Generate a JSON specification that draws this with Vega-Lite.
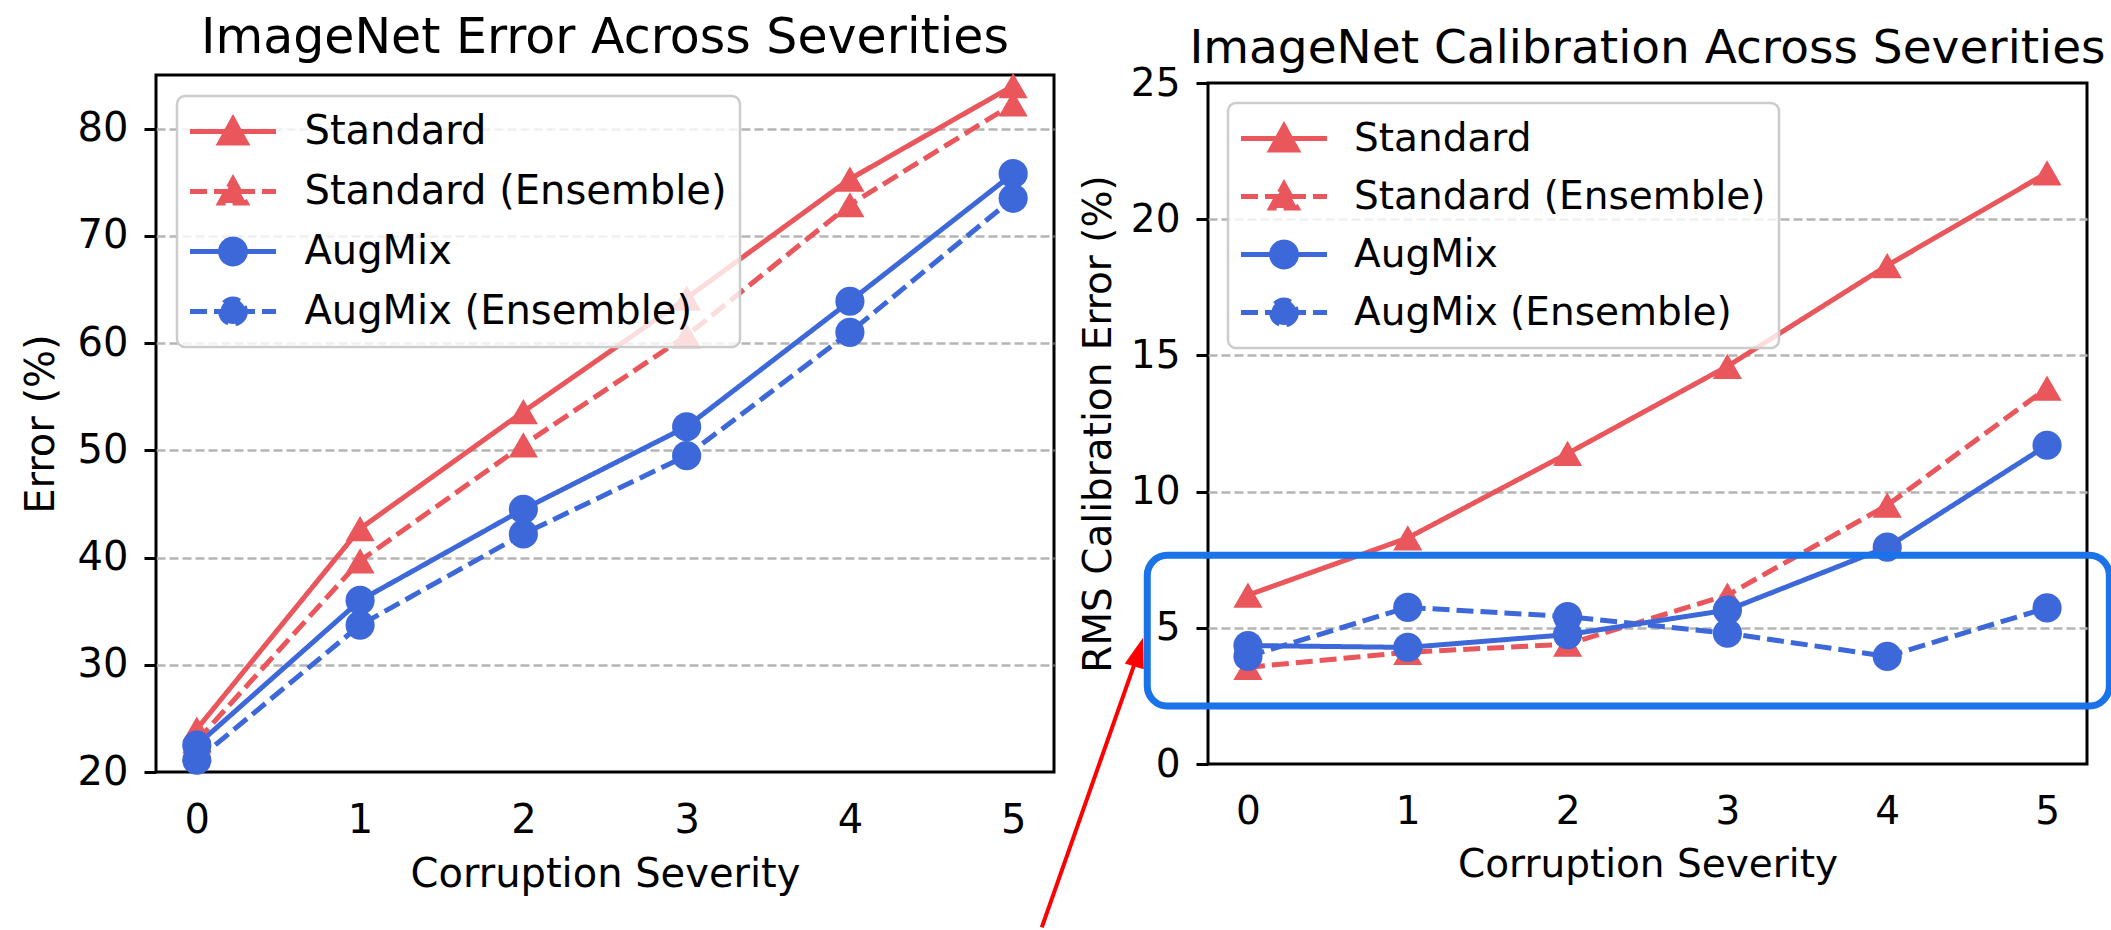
{
  "$schema": "https://vega.github.io/schema/vega-lite/v6.json",
  "padding": {"top": 12, "left": 19, "right": 0, "bottom": 0},
  "background": "white",
  "bounds": "flush",
  "center": true,
  "spacing": 154,
  "datasets": {
    "err": [
      {"series": "Standard", "severity": 0, "value": 24.0},
      {"series": "Standard", "severity": 1, "value": 42.7},
      {"series": "Standard", "severity": 2, "value": 53.6},
      {"series": "Standard", "severity": 3, "value": 64.2},
      {"series": "Standard", "severity": 4, "value": 75.3},
      {"series": "Standard", "severity": 5, "value": 84.0},
      {"series": "Standard (Ensemble)", "severity": 0, "value": 22.9},
      {"series": "Standard (Ensemble)", "severity": 1, "value": 39.7},
      {"series": "Standard (Ensemble)", "severity": 2, "value": 50.5},
      {"series": "Standard (Ensemble)", "severity": 3, "value": 60.7},
      {"series": "Standard (Ensemble)", "severity": 4, "value": 72.9},
      {"series": "Standard (Ensemble)", "severity": 5, "value": 82.3},
      {"series": "AugMix", "severity": 0, "value": 22.5},
      {"series": "AugMix", "severity": 1, "value": 36.0},
      {"series": "AugMix", "severity": 2, "value": 44.5},
      {"series": "AugMix", "severity": 3, "value": 52.2},
      {"series": "AugMix", "severity": 4, "value": 63.9},
      {"series": "AugMix", "severity": 5, "value": 75.8},
      {"series": "AugMix (Ensemble)", "severity": 0, "value": 21.1},
      {"series": "AugMix (Ensemble)", "severity": 1, "value": 33.7},
      {"series": "AugMix (Ensemble)", "severity": 2, "value": 42.2},
      {"series": "AugMix (Ensemble)", "severity": 3, "value": 49.5},
      {"series": "AugMix (Ensemble)", "severity": 4, "value": 61.0},
      {"series": "AugMix (Ensemble)", "severity": 5, "value": 73.5}
    ],
    "cal": [
      {"series": "Standard", "severity": 0, "value": 6.2},
      {"series": "Standard", "severity": 1, "value": 8.3},
      {"series": "Standard", "severity": 2, "value": 11.4},
      {"series": "Standard", "severity": 3, "value": 14.6},
      {"series": "Standard", "severity": 4, "value": 18.3},
      {"series": "Standard", "severity": 5, "value": 21.7},
      {"series": "Standard (Ensemble)", "severity": 0, "value": 3.55},
      {"series": "Standard (Ensemble)", "severity": 1, "value": 4.1},
      {"series": "Standard (Ensemble)", "severity": 2, "value": 4.4},
      {"series": "Standard (Ensemble)", "severity": 3, "value": 6.2},
      {"series": "Standard (Ensemble)", "severity": 4, "value": 9.5},
      {"series": "Standard (Ensemble)", "severity": 5, "value": 13.8},
      {"series": "AugMix", "severity": 0, "value": 4.35},
      {"series": "AugMix", "severity": 1, "value": 4.28},
      {"series": "AugMix", "severity": 2, "value": 4.75},
      {"series": "AugMix", "severity": 3, "value": 5.65},
      {"series": "AugMix", "severity": 4, "value": 7.96},
      {"series": "AugMix", "severity": 5, "value": 11.7},
      {"series": "AugMix (Ensemble)", "severity": 0, "value": 3.95},
      {"series": "AugMix (Ensemble)", "severity": 1, "value": 5.75},
      {"series": "AugMix (Ensemble)", "severity": 2, "value": 5.41},
      {"series": "AugMix (Ensemble)", "severity": 3, "value": 4.8},
      {"series": "AugMix (Ensemble)", "severity": 4, "value": 3.95},
      {"series": "AugMix (Ensemble)", "severity": 5, "value": 5.73}
    ],
    "box": [
      {"severity": -0.63, "severity_end": 5.39, "value": 2.13, "value_end": 7.66}
    ],
    "arrow": [
      {"severity": -1.29, "value": -6.0, "severity_end": -0.684, "value_end": 4.11}
    ]
  },
  "hconcat": [
    {
      "width": 898,
      "height": 697,
      "title": {"text": "ImageNet Error Across Severities", "fontSize": 49, "frame": "group", "baseline": "alphabetic", "offset": -29, "anchor": "middle", "fontWeight": "normal", "color": "black"},
      "layer": [
        {
          "data": {"name": "err"},
          "mark": {"type": "line", "strokeWidth": 5},
          "encoding": {
            "x": {"field": "severity", "type": "quantitative", "title": "Corruption Severity",
              "scale": {"domain": [-0.25, 5.25], "nice": false, "zero": false},
              "axis": {"values": [0, 1, 2, 3, 4, 5], "format": "d", "grid": false, "ticks": false, "tickSize": 0, "labelPadding": 28, "titlePadding": 14}},
            "y": {"field": "value", "type": "quantitative", "title": "Error (%)",
              "scale": {"domain": [20, 85], "nice": false, "zero": false},
              "axis": {"values": [20, 30, 40, 50, 60, 70, 80], "grid": true, "titlePadding": 16,
                "gridOpacity": {"condition": {"test": "datum.value <= 20", "value": 0}, "value": 1}}},
            "color": {"field": "series", "type": "nominal",
              "scale": {"domain": ["Standard", "Standard (Ensemble)", "AugMix", "AugMix (Ensemble)"], "range": ["#E9565B", "#E9565B", "#3D68D9", "#3D68D9"]},
              "legend": {"title": null, "orient": "top-left", "offset": 21, "padding": 13, "rowPadding": 15, "symbolSize": 1600, "symbolOffset": 20.5, "labelOffset": 49, "labelFontSize": 40, "labelLimit": 1000, "labelColor": "black", "fillColor": "rgba(255,255,255,0.8)", "strokeColor": "#cccccc", "cornerRadius": 8,
                "encode": {
                  "legend": {"update": {"strokeWidth": {"value": 2.5}}},
                  "symbols": {"update": {
                    "shape": {"signal": "indexof(datum.value,'AugMix')>=0 ? 'M-2.15,0L2.15,0M0.62,0A0.62,0.62,0,1,1,-0.62,0A0.62,0.62,0,1,1,0.62,0Z' : 'M-2.15,0L2.15,0M0,-0.62L0.66,0.58L-0.66,0.58Z'"},
                    "strokeDash": {"signal": "indexof(datum.value,'Ensemble')>=0 ? [17,7] : [1,0]"},
                    "fill": {"signal": "indexof(datum.value,'AugMix')>=0 ? '#3D68D9' : '#E9565B'"},
                    "stroke": {"signal": "indexof(datum.value,'AugMix')>=0 ? '#3D68D9' : '#E9565B'"},
                    "strokeWidth": {"value": 5},
                    "opacity": {"value": 1},
                    "fillOpacity": {"value": 1},
                    "strokeOpacity": {"value": 1}
                  }}
                }}},
            "strokeDash": {"field": "series", "type": "nominal",
              "scale": {"domain": ["Standard", "Standard (Ensemble)", "AugMix", "AugMix (Ensemble)"], "range": [[1, 0], [17, 7], [1, 0], [17, 7]]},
              "legend": null}
          }
        },
        {
          "data": {"name": "err"},
          "transform": [{"filter": "indexof(datum.series,'AugMix')<0"}],
          "mark": {"type": "point", "filled": true, "size": 850, "opacity": 1, "shape": "triangle-up"},
          "encoding": {
            "x": {"field": "severity", "type": "quantitative", "title": "Corruption Severity"},
            "y": {"field": "value", "type": "quantitative", "title": "Error (%)"},
            "color": {"field": "series", "type": "nominal"}
          }
        },
        {
          "data": {"name": "err"},
          "transform": [{"filter": "indexof(datum.series,'AugMix')>=0"}],
          "mark": {"type": "point", "filled": true, "size": 850, "opacity": 1, "shape": "circle"},
          "encoding": {
            "x": {"field": "severity", "type": "quantitative", "title": "Corruption Severity"},
            "y": {"field": "value", "type": "quantitative", "title": "Error (%)"},
            "color": {"field": "series", "type": "nominal"}
          }
        }
      ]
    },
    {
      "width": 879,
      "height": 681,
      "title": {"text": "ImageNet Calibration Across Severities", "fontSize": 47, "frame": "group", "baseline": "alphabetic", "offset": -46, "anchor": "middle", "fontWeight": "normal", "color": "black"},
      "layer": [
        {
          "data": {"name": "cal"},
          "mark": {"type": "line", "strokeWidth": 5},
          "encoding": {
            "x": {"field": "severity", "type": "quantitative", "title": "Corruption Severity",
              "scale": {"domain": [-0.25, 5.25], "nice": false, "zero": false},
              "axis": {"values": [0, 1, 2, 3, 4, 5], "format": "d", "grid": false, "ticks": false, "tickSize": 0, "labelPadding": 28, "titlePadding": 14, "labelFontSize": 39, "titleFontSize": 39}},
            "y": {"field": "value", "type": "quantitative", "title": "RMS Calibration Error (%)",
              "scale": {"domain": [0, 25], "nice": false, "zero": false},
              "axis": {"values": [0, 5, 10, 15, 20, 25], "grid": true, "titlePadding": 12, "labelFontSize": 39, "titleFontSize": 39,
                "gridOpacity": {"condition": {"test": "datum.value <= 0 || datum.value >= 25", "value": 0}, "value": 1}}},
            "color": {"field": "series", "type": "nominal",
              "scale": {"domain": ["Standard", "Standard (Ensemble)", "AugMix", "AugMix (Ensemble)"], "range": ["#E9565B", "#E9565B", "#3D68D9", "#3D68D9"]},
              "legend": {"title": null, "orient": "top-left", "offset": 20, "padding": 13, "rowPadding": 13, "symbolSize": 1600, "symbolOffset": 20.5, "labelOffset": 47.5, "labelFontSize": 39, "labelLimit": 1000, "labelColor": "black", "fillColor": "rgba(255,255,255,0.8)", "strokeColor": "#cccccc", "cornerRadius": 8,
                "encode": {
                  "legend": {"update": {"strokeWidth": {"value": 2.5}}},
                  "symbols": {"update": {
                    "shape": {"signal": "indexof(datum.value,'AugMix')>=0 ? 'M-2.15,0L2.15,0M0.62,0A0.62,0.62,0,1,1,-0.62,0A0.62,0.62,0,1,1,0.62,0Z' : 'M-2.15,0L2.15,0M0,-0.62L0.66,0.58L-0.66,0.58Z'"},
                    "strokeDash": {"signal": "indexof(datum.value,'Ensemble')>=0 ? [17,7] : [1,0]"},
                    "fill": {"signal": "indexof(datum.value,'AugMix')>=0 ? '#3D68D9' : '#E9565B'"},
                    "stroke": {"signal": "indexof(datum.value,'AugMix')>=0 ? '#3D68D9' : '#E9565B'"},
                    "strokeWidth": {"value": 5},
                    "opacity": {"value": 1},
                    "fillOpacity": {"value": 1},
                    "strokeOpacity": {"value": 1}
                  }}
                }}},
            "strokeDash": {"field": "series", "type": "nominal",
              "scale": {"domain": ["Standard", "Standard (Ensemble)", "AugMix", "AugMix (Ensemble)"], "range": [[1, 0], [17, 7], [1, 0], [17, 7]]},
              "legend": null}
          }
        },
        {
          "data": {"name": "cal"},
          "transform": [{"filter": "indexof(datum.series,'AugMix')<0"}],
          "mark": {"type": "point", "filled": true, "size": 850, "opacity": 1, "shape": "triangle-up"},
          "encoding": {
            "x": {"field": "severity", "type": "quantitative", "title": "Corruption Severity"},
            "y": {"field": "value", "type": "quantitative", "title": "RMS Calibration Error (%)"},
            "color": {"field": "series", "type": "nominal"}
          }
        },
        {
          "data": {"name": "cal"},
          "transform": [{"filter": "indexof(datum.series,'AugMix')>=0"}],
          "mark": {"type": "point", "filled": true, "size": 850, "opacity": 1, "shape": "circle"},
          "encoding": {
            "x": {"field": "severity", "type": "quantitative", "title": "Corruption Severity"},
            "y": {"field": "value", "type": "quantitative", "title": "RMS Calibration Error (%)"},
            "color": {"field": "series", "type": "nominal"}
          }
        },
        {
          "data": {"name": "box"},
          "mark": {"type": "rect", "filled": false, "stroke": "#1A73E8", "strokeWidth": 7, "cornerRadius": 20, "clip": false, "opacity": 1},
          "encoding": {
            "x": {"field": "severity", "type": "quantitative", "title": "Corruption Severity"},
            "x2": {"field": "severity_end"},
            "y": {"field": "value", "type": "quantitative", "title": "RMS Calibration Error (%)"},
            "y2": {"field": "value_end"}
          }
        },
        {
          "data": {"name": "arrow"},
          "mark": {"type": "rule", "color": "#FF0000", "strokeWidth": 4, "clip": false},
          "encoding": {
            "x": {"field": "severity", "type": "quantitative", "title": "Corruption Severity"},
            "x2": {"field": "severity_end"},
            "y": {"field": "value", "type": "quantitative", "title": "RMS Calibration Error (%)"},
            "y2": {"field": "value_end"}
          }
        },
        {
          "data": {"name": "arrow"},
          "mark": {"type": "point", "shape": "M0,-1L0.66,1L-0.66,1Z", "filled": true, "color": "#FF0000", "size": 900, "angle": 17, "clip": false, "opacity": 1},
          "encoding": {
            "x": {"field": "severity_end", "type": "quantitative", "title": "Corruption Severity"},
            "y": {"field": "value_end", "type": "quantitative", "title": "RMS Calibration Error (%)"}
          }
        }
      ]
    }
  ],
  "resolve": {
    "scale": {"x": "independent", "y": "independent", "color": "independent", "strokeDash": "independent"},
    "legend": {"color": "independent"}
  },
  "config": {
    "font": "DejaVu Sans",
    "view": {"stroke": "black", "strokeWidth": 3},
    "axis": {
      "domain": false,
      "labelFontSize": 40,
      "titleFontSize": 40,
      "labelColor": "black",
      "titleColor": "black",
      "titleFontWeight": "normal",
      "labelFont": "DejaVu Sans",
      "titleFont": "DejaVu Sans",
      "tickColor": "black",
      "tickWidth": 3,
      "tickSize": 12,
      "labelPadding": 16,
      "gridColor": "#b5b5b5",
      "gridDash": [9, 4],
      "gridWidth": 2.5,
      "labelOverlap": false
    },
    "legend": {"labelFont": "DejaVu Sans"},
    "title": {"font": "DejaVu Sans"}
  }
}
